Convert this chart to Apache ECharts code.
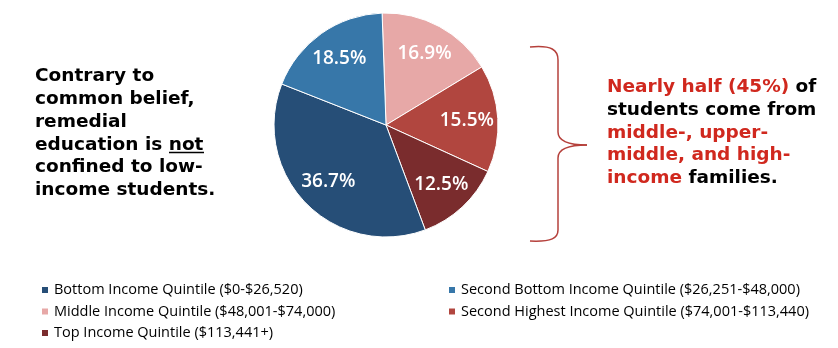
<!DOCTYPE html>
<html><head><meta charset="utf-8">
<script src="https://cdn.jsdelivr.net/npm/echarts@6/dist/echarts.min.js"></script>
<style>html,body{margin:0;padding:0;background:#fff}#c{width:838px;height:348px}</style>
</head><body><div id="c"></div>
<script>
const categories = [
  'Middle Income Quintile ($48,001-$74,000)',
  'Second Highest Income Quintile ($74,001-$113,440)',
  'Top Income Quintile ($113,441+)',
  'Bottom Income Quintile ($0-$26,520)',
  'Second Bottom Income Quintile ($26,251-$48,000)'
];
const values = [16.9, 15.5, 12.5, 36.7, 18.5];
const colors = ['#e7a8a7', '#b1463f', '#7a2c2d', '#264e77', '#3777a9'];
const legendLeft = [categories[3], categories[0], categories[2]];
const legendRight = [categories[4], categories[1]];

const leftLines = ['Contrary to', 'common belief,', 'remedial', 'education is {u|not}', 'confined to low-', 'income students.'];
const rightLines = ['{r|Nearly half (45%)} of', 'students come from', '{r|middle-, upper-}', '{r|middle, and high-}', '{r|income} families.'];

const data = categories.map((n, i) => ({ name: n, value: values[i], itemStyle: { color: colors[i] } }));

const chart = echarts.init(document.getElementById('c'));
const textFont = 'bold 18.5px "DejaVu Sans"';
const graphic = [];
const leftY = [76, 99, 122, 145, 167.5, 190];
leftLines.forEach((t, i) => graphic.push({
  type: 'text', x: 35, y: leftY[i],
  style: { text: t, font: textFont, fill: '#000', verticalAlign: 'middle', rich: { u: { font: textFont, fill: '#000' } } }
}));
graphic.push({ type: 'line', shape: { x1: 169, y1: 152.5, x2: 204, y2: 152.5 }, style: { stroke: '#000', lineWidth: 1.5 } });
const rightY = [87, 110, 133, 155.5, 178];
rightLines.forEach((t, i) => graphic.push({
  type: 'text', x: 607, y: rightY[i],
  style: { text: t, font: textFont, fill: '#000', verticalAlign: 'middle', rich: { r: { font: textFont, fill: '#d0281e' } } }
}));
const braceStyle = { stroke: '#b5403b', lineWidth: 1.5, fill: null };
graphic.push(
  { type: 'bezierCurve', shape: { x1: 530, y1: 47, cpx1: 552, cpy1: 45, cpx2: 558, cpy2: 50, x2: 558, y2: 60 }, style: braceStyle },
  { type: 'line', shape: { x1: 558, y1: 60, x2: 558, y2: 132 }, style: braceStyle },
  { type: 'bezierCurve', shape: { x1: 558, y1: 132, cpx1: 558, cpy1: 142, cpx2: 570, cpy2: 145, x2: 587, y2: 145 }, style: braceStyle },
  { type: 'bezierCurve', shape: { x1: 587, y1: 145, cpx1: 570, cpy1: 145, cpx2: 558, cpy2: 148, x2: 558, y2: 158 }, style: braceStyle },
  { type: 'line', shape: { x1: 558, y1: 158, x2: 558, y2: 230 }, style: braceStyle },
  { type: 'bezierCurve', shape: { x1: 558, y1: 230, cpx1: 558, cpy1: 238, cpx2: 552, cpy2: 242, x2: 530, y2: 241 }, style: braceStyle }
);

const legendCommon = {
  orient: 'vertical', icon: 'rect', itemWidth: 8, itemHeight: 8, itemGap: 5.5, height: 120, padding: 0,
  textStyle: { fontFamily: 'Open Sans', fontSize: 14.5, color: '#000', lineHeight: 16, padding: [0, 0, 0, 0] }
};

chart.setOption({
  animation: false,
  color: colors,
  graphic: graphic,
  legend: [
    Object.assign({ left: 40, top: 282, data: legendLeft }, legendCommon),
    Object.assign({ left: 447, top: 282, data: legendRight }, legendCommon)
  ],
  series: [
    {
      type: 'pie', center: [386, 125], radius: [0, 112], startAngle: 92, clockwise: true,
      data: data, label: { show: false }, labelLine: { show: false },
      itemStyle: { borderColor: '#fff', borderWidth: 1 }, emphasis: { disabled: true }
    },
    {
      type: 'pie', center: [386, 125], radius: [44, 112], startAngle: 92, clockwise: true, silent: true,
      data: data.map(d => ({ name: d.name, value: d.value, itemStyle: { color: 'rgba(0,0,0,0)' } })),
      itemStyle: { borderWidth: 0 },
      label: { show: true, position: 'inside', formatter: p => p.value.toFixed(1) + '%', color: '#fff', fontFamily: 'Open Sans', fontWeight: 600, fontSize: 19 },
      labelLine: { show: false }, emphasis: { disabled: true }
    }
  ]
});
</script></body></html>
